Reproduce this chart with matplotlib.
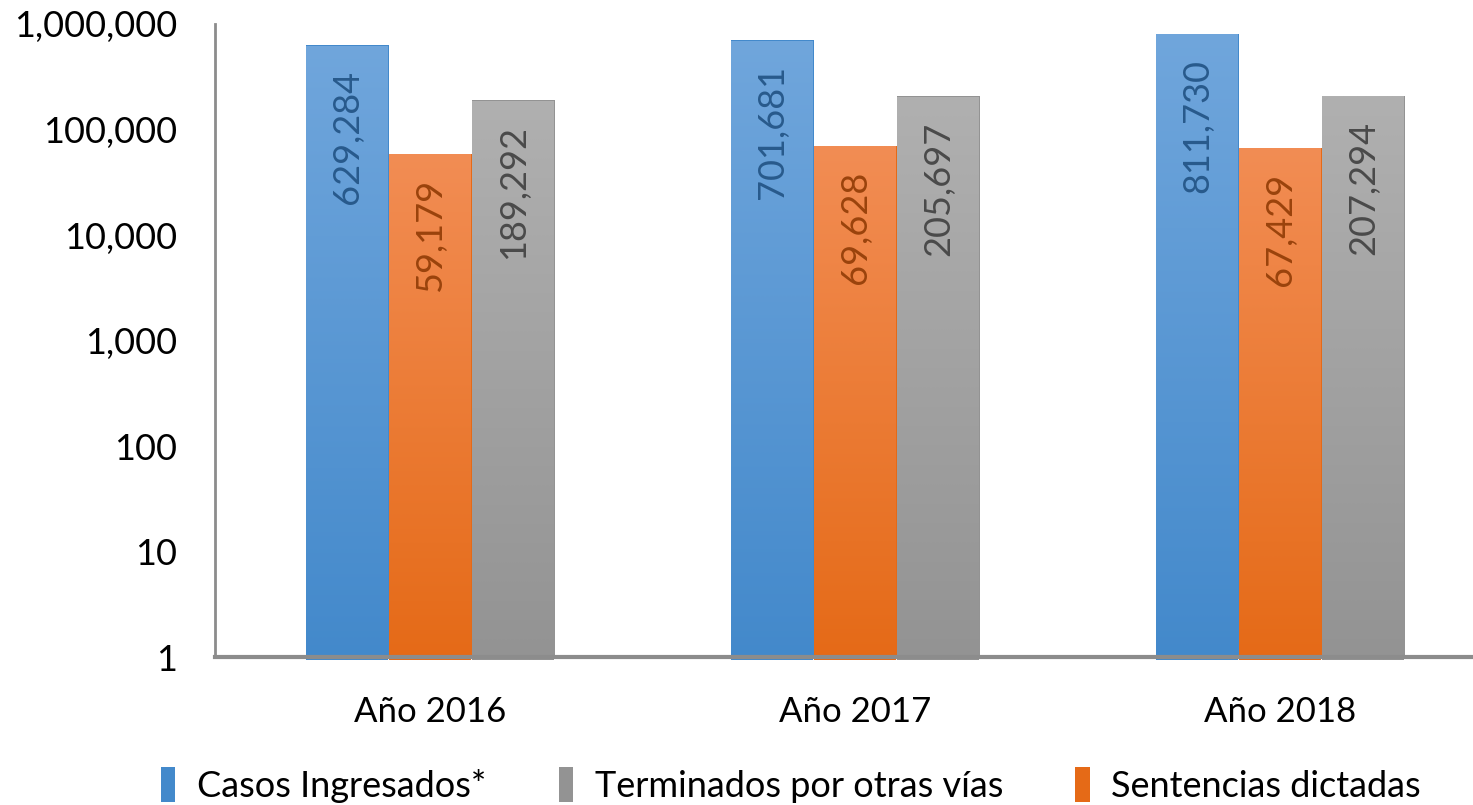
import numpy as np
import matplotlib
matplotlib.use("Agg")
import matplotlib.pyplot as plt
from matplotlib.patches import Patch
from matplotlib.colors import LinearSegmentedColormap
from matplotlib.ticker import FixedLocator, FuncFormatter
from matplotlib.transforms import blended_transform_factory

plt.rcParams['font.family'] = ['Lato', 'DejaVu Sans']

categories = ["Año 2016", "Año 2017", "Año 2018"]
casos_ingresados = [629284, 701681, 811730]
sentencias_dictadas = [59179, 69628, 67429]
terminados_otras_vias = [189292, 205697, 207294]

series = [
    ("Casos Ingresados*", casos_ingresados, "#70a6dc", "#4389cb", "#285a8c"),
    ("Sentencias dictadas", sentencias_dictadas, "#f28d54", "#e56a17", "#9a430c"),
    ("Terminados por otras vías", terminados_otras_vias, "#b0b0b0", "#939393", "#4a4a4a"),
]

fig = plt.figure(figsize=(14.73, 8.05), dpi=100)
ax = fig.add_axes([215/1473, 1-657/805, 1275/1473, (657-24)/805])
ax.set_yscale('log')
ax.set_ylim(1, 1e6)
xlo = -0.507
ax.set_xlim(xlo, xlo + len(categories))
blend = blended_transform_factory(ax.transData, ax.transAxes)

x = np.arange(len(categories))
w = 0.195
offsets = [-w, 0, w]
for (name, vals, ctop, cbot, clab), off in zip(series, offsets):
    bars = ax.bar(x+off, vals, width=w, color=cbot, edgecolor='none', zorder=2, log=True)
    cmap = LinearSegmentedColormap.from_list(name, [cbot, ctop])
    grad = np.linspace(0, 1, 256).reshape(-1, 1)
    for b, v in zip(bars, vals):
        x0 = b.get_x()
        top = np.log10(v) / 6.0
        im = ax.imshow(grad, extent=[x0, x0+w, -0.005, top], origin='lower', aspect='auto',
                       cmap=cmap, zorder=3, interpolation='bilinear', transform=blend)
        im.set_clip_path(b)
        ax.annotate(f"{v:,}", xy=(x0+w/2, v), xytext=(0, -18), textcoords='offset points',
                    rotation=90, ha='center', va='top', fontsize=26, color=clab, zorder=4)

ax.set_xlim(xlo, xlo + len(categories))
ax.set_ylim(1, 1e6)
ax.yaxis.set_major_locator(FixedLocator([1, 10, 100, 1000, 1e4, 1e5, 1e6]))
ax.yaxis.set_minor_locator(FixedLocator([]))
ax.yaxis.set_major_formatter(FuncFormatter(lambda v, p: f"{int(round(v)):,}"))
ax.tick_params(axis='y', length=0, pad=27, labelsize=26)
ax.set_xticks(x)
ax.set_xticklabels(categories)
ax.tick_params(axis='x', length=0, pad=28, labelsize=25)
for s in ['top', 'right']:
    ax.spines[s].set_visible(False)
ax.spines['left'].set_color('#8c8c8c')
ax.spines['left'].set_linewidth(2)
ax.spines['bottom'].set_color('#8c8c8c')
ax.spines['bottom'].set_linewidth(3)
ax.spines['bottom'].set_zorder(5)

handles = [Patch(facecolor=series[0][3]), Patch(facecolor=series[2][3]), Patch(facecolor=series[1][3])]
labels = [series[0][0], series[2][0], series[1][0]]
fig.legend(handles, labels, loc='center', bbox_to_anchor=(0.537, 1-785/805), ncol=3,
           frameon=False, fontsize=26, handlelength=0.4, handleheight=1.1,
           handletextpad=0.6, columnspacing=2.0)

fig.savefig("out.png", dpi=100)
